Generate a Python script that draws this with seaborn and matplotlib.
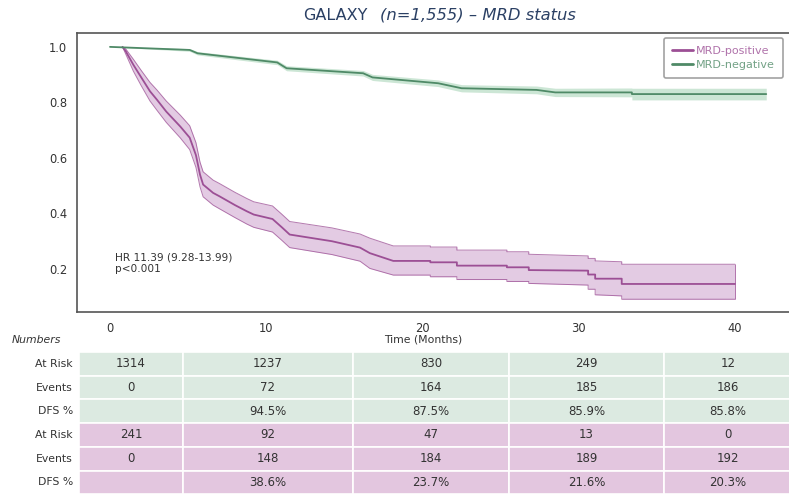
import matplotlib
matplotlib.use("Agg")
import matplotlib.pyplot as plt
import seaborn as sns
from matplotlib.patches import Rectangle

# ---- data (curve vertices; repeated times are drops) ----
POS_TIME = [0.8, 1.0, 1.5, 2.0, 2.56, 3.0, 3.6, 4.5, 5.1, 5.5, 5.76, 5.96, 6.6, 7.0, 8.0,
            8.75, 9.2, 10.4, 11.0, 11.5, 14.2, 16.0, 16.63, 18.13, 20.5, 20.5, 22.2, 22.2,
            25.4, 25.4, 26.8, 26.8, 30.6, 30.6, 31.05, 31.05, 32.75, 32.75, 40.0]
POS_SURV = [1.000, 0.985, 0.935, 0.890, 0.840, 0.810, 0.767, 0.713, 0.673, 0.610, 0.540,
            0.504, 0.474, 0.462, 0.430, 0.408, 0.396, 0.380, 0.350, 0.324, 0.300, 0.277,
            0.257, 0.229, 0.229, 0.224, 0.224, 0.212, 0.212, 0.206, 0.206, 0.196, 0.194,
            0.180, 0.180, 0.165, 0.165, 0.146, 0.146]
POS_LO = [1.000, 0.975, 0.912, 0.860, 0.805, 0.772, 0.728, 0.672, 0.630, 0.566, 0.496,
          0.460, 0.430, 0.417, 0.385, 0.362, 0.350, 0.333, 0.303, 0.277, 0.252, 0.228,
          0.202, 0.178, 0.178, 0.172, 0.172, 0.162, 0.162, 0.155, 0.155, 0.148, 0.142,
          0.127, 0.127, 0.107, 0.103, 0.091, 0.091]
POS_HI = [1.000, 0.993, 0.955, 0.915, 0.872, 0.845, 0.805, 0.754, 0.716, 0.655, 0.585,
          0.550, 0.520, 0.508, 0.476, 0.454, 0.442, 0.427, 0.397, 0.371, 0.348, 0.326,
          0.311, 0.283, 0.283, 0.279, 0.279, 0.268, 0.268, 0.262, 0.262, 0.253, 0.247,
          0.238, 0.238, 0.229, 0.226, 0.217, 0.217]

NEG_TIME = [0.0, 5.1, 5.6, 10.7, 11.3, 16.2, 16.8, 21.0, 22.5, 27.3, 28.5, 33.4, 33.4, 42.0]
NEG_SURV = [1.000, 0.989, 0.977, 0.944, 0.923, 0.905, 0.890, 0.869, 0.851, 0.845, 0.836,
            0.836, 0.830, 0.830]
NEG_LO = [1.000, 0.984, 0.971, 0.936, 0.914, 0.895, 0.879, 0.857, 0.838, 0.831, 0.821,
          0.820, 0.809, 0.809]
NEG_HI = [1.000, 0.994, 0.983, 0.952, 0.932, 0.915, 0.901, 0.881, 0.864, 0.859, 0.851,
          0.852, 0.851, 0.851]

X_TICKS = [0, 10, 20, 30, 40]
Y_TICKS = [0.2, 0.4, 0.6, 0.8, 1.0]

ROW_LABELS = ["At Risk", "Events", "DFS %", "At Risk", "Events", "DFS %"]
NEG_AT_RISK = [1314, 1237, 830, 249, 12]
NEG_EVENTS = [0, 72, 164, 185, 186]
NEG_DFS = ["", "94.5%", "87.5%", "85.9%", "85.8%"]
POS_AT_RISK = [241, 92, 47, 13, 0]
POS_EVENTS = [0, 148, 184, 189, 192]
POS_DFS = ["", "38.6%", "23.7%", "21.6%", "20.3%"]

# ---- style ----
PURPLE = "#9c4f95"
PURPLE_FILL = "#dcbfdc"
GREEN = "#4f8a67"
GREEN_FILL = "#c0e0cb"
GREEN_BG = "#dceae1"
PURPLE_BG = "#e3c6df"
TEXT = "#333333"
SPINE = "#555555"

W, H = 789, 494
sns.set_theme(style="white")
plt.rcParams["font.family"] = ["DejaVu Sans"]

fig = plt.figure(figsize=(W / 100, H / 100), dpi=100)

# main KM axes (pixel box 77..797 x 33..312, right edge runs off the image)
AX_RIGHT = 797
ax = fig.add_axes([77 / W, 1 - 312 / H, (AX_RIGHT - 77) / W, (312 - 33) / H])

ax.fill_between(POS_TIME, POS_LO, POS_HI, color=PURPLE_FILL, alpha=0.8, linewidth=0)
ax.plot(POS_TIME, POS_LO, color=PURPLE, linewidth=0.7, alpha=0.75)
ax.plot(POS_TIME, POS_HI, color=PURPLE, linewidth=0.7, alpha=0.75)
ax.vlines(POS_TIME[-1], POS_LO[-1], POS_HI[-1], color=PURPLE, linewidth=0.7, alpha=0.75)
ax.fill_between(NEG_TIME, NEG_LO, NEG_HI, color=GREEN_FILL, alpha=0.8, linewidth=0)

sns.lineplot(x=POS_TIME, y=POS_SURV, color=PURPLE, linewidth=1.3, sort=False,
             estimator=None, ax=ax, label="MRD-positive")
sns.lineplot(x=NEG_TIME, y=NEG_SURV, color=GREEN, linewidth=1.3, sort=False,
             estimator=None, ax=ax, label="MRD-negative")

# 0 at px 110, 40 at px 735
ppm = (735 - 110) / 40
ax.set_xlim(-(110 - 77) / ppm, (AX_RIGHT - 110) / ppm)
ax.set_ylim(0.045, 1.05)
ax.set_xticks(X_TICKS)
ax.set_yticks(Y_TICKS)
ax.set_xticklabels([str(t) for t in X_TICKS])
ax.set_yticklabels([f"{v:.1f}" for v in Y_TICKS])
ax.tick_params(axis="both", direction="out", length=3, width=1, colors=SPINE,
               labelsize=8.3, labelcolor=TEXT, pad=4)
ax.tick_params(axis="x", pad=4)
for side in ["left", "top", "bottom"]:
    ax.spines[side].set_color(SPINE)
    ax.spines[side].set_linewidth(1.2)
ax.spines["right"].set_visible(False)
ax.set_xlabel("")
ax.set_ylabel("")

ax_w = AX_RIGHT - 77
leg = ax.legend(loc="upper left", bbox_to_anchor=((664 - 77) / ax_w, 1 - 4.5 / 279),
                fontsize=8, frameon=True, fancybox=True, edgecolor="#8a8a8a",
                handlelength=1.9, handletextpad=0.25, borderpad=0.75, labelspacing=0.35,
                borderaxespad=0)
leg.get_frame().set_linewidth(1.2)
for line in leg.get_lines():
    line.set_linewidth(2)
for txt, col in zip(leg.get_texts(), [PURPLE, GREEN]):
    txt.set_color(col)
    txt.set_alpha(0.8)

ax.text(0.3, 0.22, "HR 11.39 (9.28-13.99)\np<0.001", fontsize=7.6, color=TEXT,
        va="center", ha="left", linespacing=1.25)

# title
fig.text(367 / W, 1 - 15 / H, "GALAXY", fontsize=11.5, color="#2b4064", ha="right",
         va="center")
fig.text(380 / W, 1 - 15 / H, "(n=1,555) \u2013 MRD status", fontsize=11.8,
         color="#2b4064", ha="left", va="center", style="italic")

fig.text(423 / W, 1 - 340 / H, "Time (Months)", fontsize=7.8, color=TEXT,
         ha="center", va="center")
fig.text(12 / W, 1 - 340 / H, "Numbers", fontsize=7.8, color=TEXT, ha="left",
         va="center", style="italic")

# ---- numbers table ----
tab = fig.add_axes([0, 0, 1, 1], zorder=-1)
tab.set_xlim(0, W)
tab.set_ylim(H, 0)
tab.axis("off")

col_edges = [79, 183, 353, 509, 664, 792]
row_top = 352
row_h = 23.7
rows = [
    [str(v) for v in NEG_AT_RISK],
    [str(v) for v in NEG_EVENTS],
    NEG_DFS,
    [str(v) for v in POS_AT_RISK],
    [str(v) for v in POS_EVENTS],
    POS_DFS,
]
for r, (label, values) in enumerate(zip(ROW_LABELS, rows)):
    y0 = row_top + r * row_h
    bg = GREEN_BG if r < 3 else PURPLE_BG
    yc = y0 + row_h / 2
    tab.text(73, yc, label, fontsize=7.8, color=TEXT, ha="right", va="center")
    for c, val in enumerate(values):
        x0, x1 = col_edges[c], col_edges[c + 1]
        tab.add_patch(Rectangle((x0, y0), x1 - x0, row_h, facecolor=bg,
                                edgecolor="white", linewidth=1.2))
        tab.text((x0 + x1) / 2, yc, val, fontsize=8.5, color=TEXT, ha="center",
                 va="center")

fig.savefig("out.png", dpi=100)
plt.close(fig)
